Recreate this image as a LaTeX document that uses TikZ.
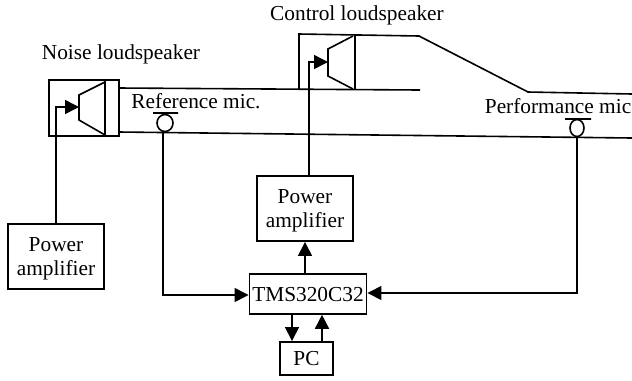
\documentclass[tikz,border=0pt]{standalone}
\usepackage{fontspec}
\setmainfont{Liberation Serif}
\usetikzlibrary{arrows.meta}
\tikzset{
lbl/.style={inner sep=0pt,font=\fontsize{16}{18}\selectfont},
blockbox/.style={draw,inner sep=0pt,align=center,text depth=0pt,font=\fontsize{16}{18.7}\selectfont},
sigarrow/.style={-{Stealth[length=10.5pt,width=10.5pt,inset=0pt]}}
}
\begin{document}
\begin{tikzpicture}[x=.75pt,y=-.75pt,line width=1.2pt]
\useasboundingbox(0,0)rectangle(632,380);
\node[lbl](noiselbl)at(121,54){Noise loudspeaker};
\node[lbl](ctrllbl)at(357,15){Control loudspeaker};
\node[lbl](reflbl)at(196,101.5){Reference mic.};
\node[lbl,anchor=east](perflbl)at(632,106){Performance mic};
\node[blockbox,minimum width=72pt,minimum height=48.5pt](ampone)at(56,256.5){Power\\amplifier};
\node[blockbox,minimum width=72pt,minimum height=49pt](amptwo)at(305,208.5){Power\\amplifier};
\node[blockbox,text depth=-3pt,minimum width=88pt,minimum height=30pt](tms)at(308,294){TMS320C32};
\node[blockbox,text depth=-3pt,minimum width=40pt,minimum height=25pt](pc)at(306.5,358.5){PC};
\draw(49,80)rectangle(119,136)(105,80)--(105,136);
\draw(105,82)--(79,95)--(79,120)--(105,135);
\draw(299,89)--(299,34)--(419,36)--(528,92)--(632,94);
\draw(355,35)--(355,89);
\draw(353,36)--(328,49)--(328,76)--(353,89);
\draw(119,88)--(420,90);
\draw(119,132)--(632,138);
\coordinate(spkone)at(79,107);
\coordinate(spktwo)at(328,62);
\coordinate(refin)at(163,132);
\coordinate(perfin)at(577,137);
\draw[sigarrow](ampone.north)--(56,107)--(spkone);
\draw[sigarrow](amptwo.north-|309,0)--(309,62)--(spktwo);
\draw[sigarrow](tms.north-|amptwo)--(amptwo.south);
\draw[sigarrow](refin)--(163,295)--(tms.west|-0,295);
\draw[sigarrow](perfin)--(577,293)--(tms.east|-0,293);
\draw[sigarrow](tms.south-|292,0)--(pc.north-|292,0);
\draw[sigarrow](pc.north-|322,0)--(tms.south-|322,0);
\draw(165,123)ellipse(8 and 8.5)(153,113)--(178,113);
\draw(577,128)ellipse(7 and 8.5)(565,119)--(591,119);
\end{tikzpicture}
\end{document}
